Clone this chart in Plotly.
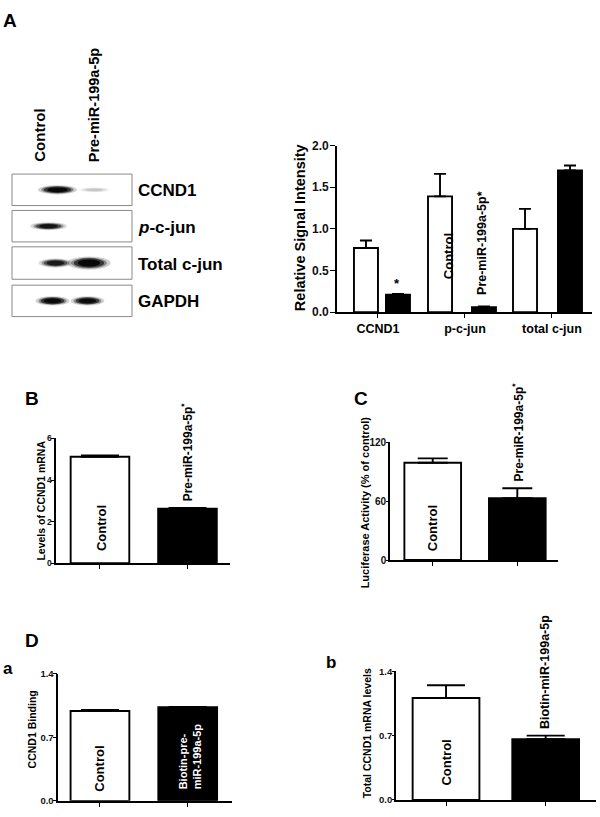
import plotly.graph_objects as go

W, H = 600, 817
def px(x): return x / W
def py(y): return 1 - y / H

FONT = "Liberation Sans, Arial, sans-serif"

# ---------------- Data ----------------
# Panel A: densitometry of western blots
a_categories = ["CCND1", "p-c-jun", "total c-jun"]
a_control = [0.77, 1.39, 1.00]
a_control_err = [0.09, 0.27, 0.24]
a_pre = [0.21, 0.06, 1.70]
a_pre_err = [0.01, 0.01, 0.06]

# Panel A: blot band intensities (relative 0-1)
blot_proteins = ["CCND1", "<i>p</i>-c-jun", "Total c-jun", "GAPDH"]
blot_control = [1.0, 0.85, 0.8, 1.0]
blot_pre = [0.12, 0.0, 1.0, 0.95]

# Panel B
b_groups = ["Control", "Pre-miR-199a-5p"]
b_values = [5.12, 2.62]
b_err = [0.07, 0.04]

# Panel C
c_groups = ["Control", "Pre-miR-199a-5p"]
c_values = [99.0, 63.0]
c_err = [4.5, 10.0]

# Panel D a
da_groups = ["Control", "Biotin-pre-miR-199a-5p"]
da_values = [0.99, 1.03]
da_err = [0.01, 0.005]

# Panel D b
db_groups = ["Control", "Biotin-miR-199a-5p"]
db_values = [1.11, 0.66]
db_err = [0.14, 0.04]

FILLS = ["white", "black"]

fig = go.Figure()

def err(arr, width):
    return dict(type="data", symmetric=False, array=arr, arrayminus=[0] * len(arr),
                color="black", thickness=1.9, width=width)

# ---- Panel A bars ----
fig.add_trace(go.Bar(x=a_categories, y=a_control, xaxis="x", yaxis="y",
                     width=0.276, offset=[-0.276, -0.425, -0.448],
                     marker=dict(color="white", line=dict(color="black", width=1.9)),
                     error_y=err(a_control_err, 6), showlegend=False))
fig.add_trace(go.Bar(x=a_categories, y=a_pre, xaxis="x", yaxis="y",
                     width=0.276, offset=[0.092, 0.08, 0.069],
                     marker=dict(color="black", line=dict(color="black", width=1.9)),
                     error_y=err(a_pre_err, 6), showlegend=False))

# ---- Panels B, C, Da, Db ----
for grp, vals, errs, ax, cw in [
    (b_groups, b_values, b_err, "2", 19),
    (c_groups, c_values, c_err, "3", 15),
    (da_groups, da_values, da_err, "4", 19),
    (db_groups, db_values, db_err, "5", 19),
]:
    fig.add_trace(go.Bar(x=grp, y=vals, xaxis="x" + ax, yaxis="y" + ax, width=0.67,
                         marker=dict(color=FILLS, line=dict(color="black", width=1.9)),
                         error_y=err(errs, cw), showlegend=False))

def yax(dom, rng, tv, size, anchor, fmt=None, ticklen=4, standoff=-2):
    d = dict(domain=dom, range=rng, tickvals=tv, anchor=anchor, showline=True,
             linecolor="black", linewidth=1.6, ticks="outside", ticklen=ticklen,
             tickwidth=1.4, tickcolor="black", ticklabelstandoff=standoff,
             showgrid=False, zeroline=False, fixedrange=True,
             tickfont=dict(family=FONT, size=size, color="#111", weight="bold"))
    if fmt:
        d["tickformat"] = fmt
    return d

def xax(dom, rng, anchor, labels=False, size=12):
    return dict(domain=dom, range=rng, anchor=anchor, type="category", showline=True,
                linecolor="black", linewidth=1.6, ticks="outside", ticklen=4,
                tickwidth=1.2, tickcolor="black", showgrid=False, zeroline=False,
                showticklabels=labels, fixedrange=True,
                tickfont=dict(family=FONT, size=size, color="black", weight="bold"))

fig.update_layout(
    width=W, height=H, margin=dict(l=0, r=0, t=0, b=0),
    paper_bgcolor="white", plot_bgcolor="white", barmode="overlay",
    font=dict(family=FONT, color="black"),
    xaxis=xax([px(337), px(592)], [-0.471, 2.46], "y", labels=True, size=12.5),
    yaxis=yax([py(310.5), py(141)], [0, 2.0], [0, 0.5, 1.0, 1.5, 2.0], 12, "x",
              ".1f", ticklen=5, standoff=-1),
    xaxis2=xax([px(55.7), px(230)], [-0.506, 1.486], "y2"),
    yaxis2=yax([py(566), py(439)], [0, 6], [0, 2, 4, 6], 8.5, "x2", ticklen=2.5),
    xaxis3=xax([px(390), px(558)], [-0.505, 1.481], "y3"),
    yaxis3=yax([py(562.7), py(442.7)], [0, 120], [0, 60, 120], 10, "x3", ticklen=2),
    xaxis4=xax([px(58.3), px(232)], [-0.475, 1.505], "y4"),
    yaxis4=yax([py(807.7), py(678.3)], [0, 1.4], [0, 0.7, 1.4], 9.5, "x4", ".1f",
               ticklen=4, standoff=-3),
    xaxis5=xax([px(396), px(596)], [-0.502, 1.505], "y5"),
    yaxis5=yax([py(806.7), py(676)], [0, 1.4], [0, 0.7, 1.4], 9.5, "x5", ".1f",
               ticklen=2),
)

# ---------------- Western blot (panel A, left) ----------------
shapes = []
row_top = [170, 207, 244, 283]
row_bot = [202, 239, 277, 315]
ctrl_x = [57.5, 48.5, 55.5, 52.5]
pre_x = [94.5, 92.0, 89.0, 87.5]
ctrl_w = [29, 27, 25, 25]
pre_w = [25, 0, 32, 25]
ctrl_h = [7, 6, 7, 7]
pre_h = [4, 0, 10, 7]

def band(cx, cy, w, h, inten):
    out = []
    if inten <= 0 or w <= 0:
        return out
    for scale, op in [(1.35, 0.18), (1.12, 0.35), (0.95, 0.6), (0.7, 0.85)]:
        ww, hh = w * scale, h * scale
        out.append(dict(type="circle", xref="paper", yref="paper",
                        x0=px(cx - ww / 2), x1=px(cx + ww / 2),
                        y0=py(cy + hh / 2), y1=py(cy - hh / 2),
                        fillcolor="black", opacity=min(1.0, op * inten), line=dict(width=0)))
    return out

for i in range(len(blot_proteins)):
    shapes.append(dict(type="rect", xref="paper", yref="paper",
                       x0=px(12), x1=px(132), y0=py(row_bot[i]), y1=py(row_top[i]),
                       line=dict(color="#8a8a8a", width=1), fillcolor="white"))
    cy = (row_top[i] + row_bot[i]) / 2
    shapes += band(ctrl_x[i], cy, ctrl_w[i], ctrl_h[i], blot_control[i])
    shapes += band(pre_x[i], cy, pre_w[i], pre_h[i], blot_pre[i])

fig.update_layout(shapes=shapes)

# ---------------- Annotations ----------------
anns = []
def ann(text, x, y, size, angle=0, xanchor="center", yanchor="middle", color="black",
        align="center"):
    anns.append(dict(text=text, x=px(x), y=py(y), xref="paper", yref="paper",
                     showarrow=False, textangle=angle, xanchor=xanchor, yanchor=yanchor,
                     align=align,
                     font=dict(family=FONT, size=size, color=color, weight="bold")))

# panel letters
ann("A", 10, 13.5, 19)
ann("B", 31.7, 398.5, 19)
ann("C", 361, 398.5, 19)
ann("D", 31.7, 645, 19)
ann("a", 7.5, 673, 17)
ann("b", 331, 667, 17)

# blot lane labels and protein labels
ann("Control", 40, 160, 15, angle=-90, yanchor="bottom")
ann("Pre-miR-199a-5p", 93.5, 160, 14.5, angle=-90, yanchor="bottom")
for i, name in enumerate(blot_proteins):
    ann(name, 136, (row_top[i] + row_bot[i]) / 2 + 1, 17, xanchor="left")

# panel A chart texts
ann("Relative Signal Intensity", 300, 225, 14.5, angle=-90)
ann("*", 397, 281, 13)
ann("Control", 448, 253.5, 13, angle=-90)
ann("Pre-miR-199a-5p*", 482, 295, 12.5, angle=-90, yanchor="bottom")

# panel B
ann("Levels of CCND1 mRNA", 40.7, 502.5, 10.5, angle=-90)
ann("Control", 101.7, 530.5, 13, angle=-90)
ann("Pre-miR-199a-5p<sup>*</sup>", 186.5, 505, 12, angle=-90, yanchor="bottom")

# panel C
ann("Luciferase Activity (% of control)", 365, 504, 11, angle=-90)
ann("Control", 433.3, 530, 13, angle=-90)
ann("Pre-miR-199a-5p<sup>*</sup>", 518.3, 485, 12, angle=-90, yanchor="bottom")

# panel D a
ann("CCND1 Binding", 32, 735, 10.5, angle=-90)
ann("Control", 100, 775, 13, angle=-90)
ann("Biotin-pre-<br>miR-199a-5p", 190, 798, 11, angle=-90, yanchor="bottom",
    color="white", align="left")

# panel D b
ann("Total CCND1 mRNA levels", 367, 739, 10.5, angle=-90)
ann("Control", 446.7, 769, 13, angle=-90)
ann("Biotin-miR-199a-5p", 545, 736.7, 12.5, angle=-90, yanchor="bottom")

fig.update_layout(annotations=anns)

fig.write_html("out.html",
               config={"displayModeBar": False},
               post_script="document.body.style.margin='0px';"
                           "document.body.style.padding='0px';"
                           "document.body.style.overflow='hidden';"
                           "document.documentElement.style.overflow='hidden';")
